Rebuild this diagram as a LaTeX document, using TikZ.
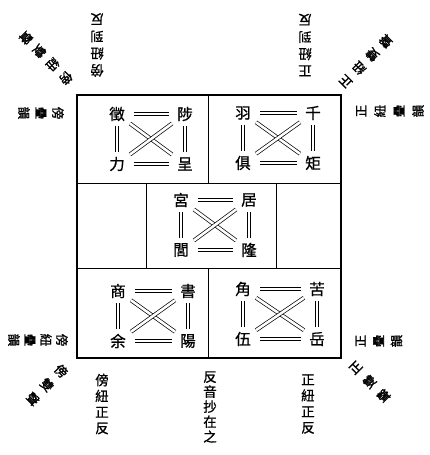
\documentclass[tikz,border=0pt]{standalone}
\usepackage{fontspec}
\newfontfamily\cjk{Noto Sans CJK TC}
\newfontfamily\cjkb[FakeBold=1.4]{Noto Sans CJK TC}
\newfontfamily\cjkm[FakeBold=0.8]{Noto Sans CJK TC}
\newcommand\mycell[8]{%
\begin{scope}[shift={(#2,#3)}]
 \node[ch] (#1a) at (-#4,-25) {#5};
 \node[ch] (#1b) at (#4,-25) {#6};
 \node[ch] (#1c) at (-#4,25) {#7};
 \node[ch] (#1d) at (#4,25) {#8};
 \draw[dbl,shorten <=8pt,shorten >=7pt] (#1a) -- (#1b);
 \draw[dbl,shorten <=8pt,shorten >=7pt] (#1c) -- (#1d);
 \draw[dbl,shorten <=4pt,shorten >=4pt] (#1a) -- (#1c);
 \draw[dbl,shorten <=4pt,shorten >=4pt] (#1b) -- (#1d);
 \draw[dbl,shorten <=5pt,shorten >=5pt] (#1a) -- (#1d);
 \draw[dbl,shorten <=5pt,shorten >=5pt] (#1b) -- (#1c);
\end{scope}}
\begin{document}
\begin{tikzpicture}[x=1pt,y=-1pt,
  ch/.style={font=\cjkm\fontsize{15.5}{15.5}\selectfont, inner sep=1pt},
  dbl/.style={double, double distance=2.6pt, line width=0.7pt},
  lab/.style={font=\cjkm\fontsize{13.5}{#1}\selectfont, align=center, inner sep=0pt},
  blab/.style={font=\cjkb\fontsize{12.5}{#1}\selectfont, align=center, inner sep=0pt},
  frame/.style={line width=1.2pt},
  grid/.style={line width=1pt}]
\useasboundingbox (0,0) rectangle (430,455);
% frame
\draw[frame] (77,95) rectangle (341,358);
\draw[grid] (77,183) -- (341,183);
\draw[grid] (77,268) -- (341,268);
\draw[grid] (208,95) -- (208,183);
\draw[grid] (208,268) -- (208,358);
\draw[grid] (146,183) -- (146,268);
\draw[grid] (276,183) -- (276,268);
% cells
\mycell{tl}{151}{139}{34}{徵}{陟}{力}{呈}
\mycell{tr}{278}{138}{35}{羽}{千}{俱}{矩}
\mycell{cc}{215}{225}{34}{宮}{居}{閭}{隆}
\mycell{bl}{153}{316}{35}{商}{書}{余}{陽}
\mycell{br}{280}{314}{37}{角}{苦}{伍}{岳}
% outer labels
\node[lab=17,rotate=180] (ltop) at (97,45) {傍\\紐\\到\\反};
\node[lab=17,rotate=180] (rtop) at (305,45) {正\\紐\\到\\反};
\node[lab=16] (lbot) at (102,404) {傍\\紐\\正\\反};
\node[lab=15] (cbot) at (210,407) {反\\音\\抄\\在\\之};
\node[lab=16] (rbot) at (308,404) {正\\紐\\正\\反};
\node[blab=19,rotate=-135] (tldiag) at (46,58) {傍\\紐\\雙\\聲};
\node[blab=19,rotate=135] (trdiag) at (366,61) {正\\紐\\雙\\聲};
\node[blab=17,rotate=-90] (lhtop) at (41,113) {傍\\疊\\韻};
\node[blab=19,rotate=90] (rhtop) at (390,111) {正\\紐\\疊\\韻};
\node[blab=16,rotate=-90] (lhbot) at (38,340) {傍\\紐\\疊\\韻};
\node[blab=18,rotate=90] (rhbot) at (379,341) {正\\疊\\韻};
\node[blab=20,rotate=-45] (bldiag) at (47,385) {傍\\雙\\聲};
\node[blab=20,rotate=45] (brdiag) at (370,382) {正\\雙\\聲};
\end{tikzpicture}
\end{document}
